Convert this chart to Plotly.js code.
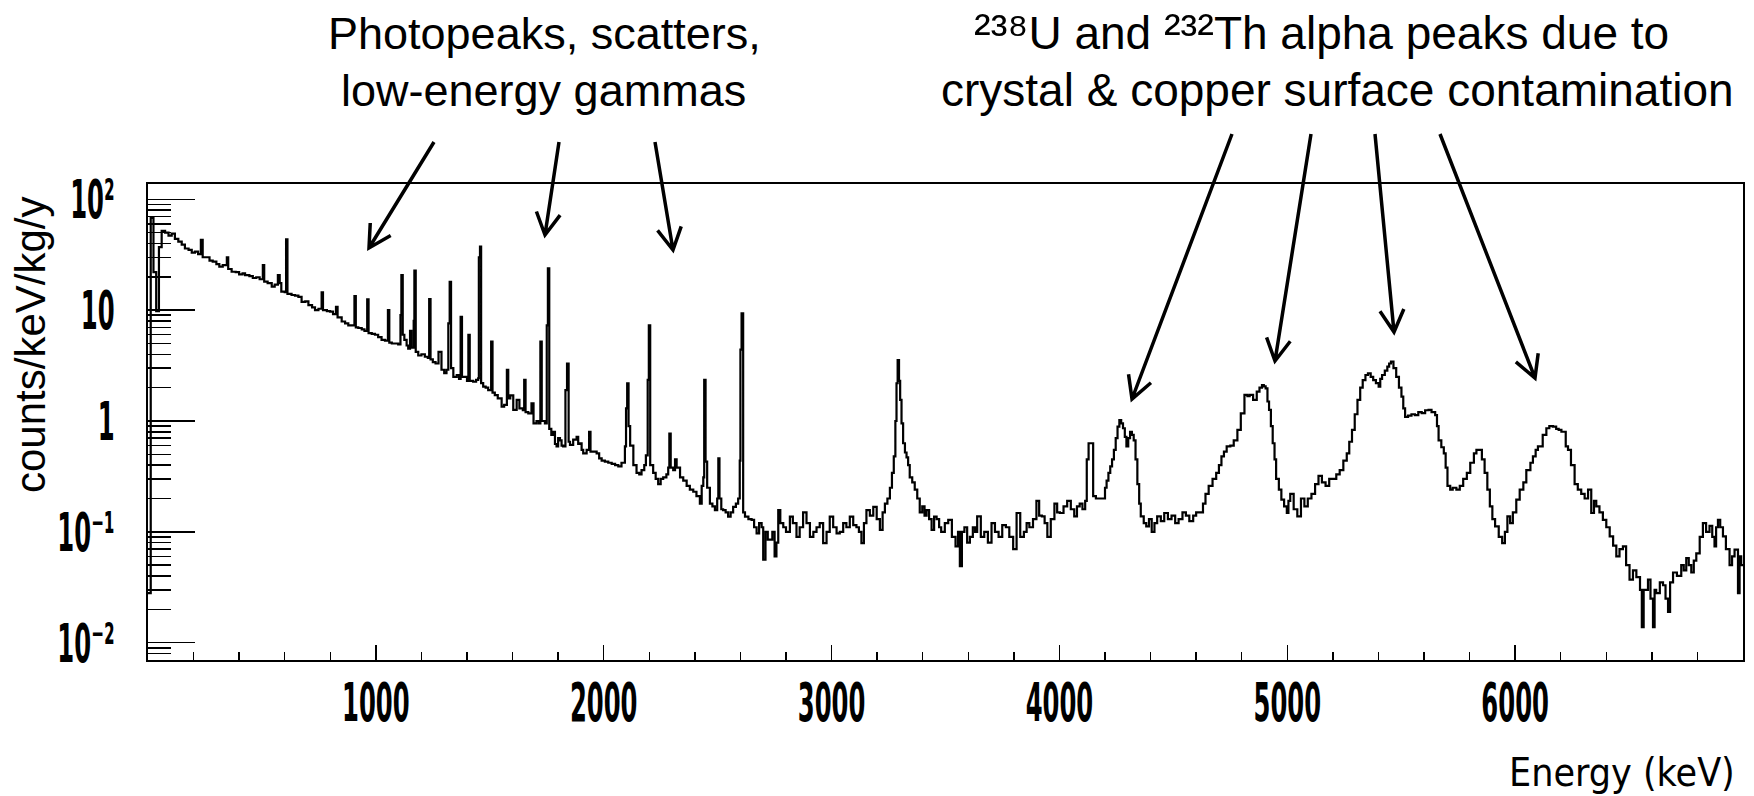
<!DOCTYPE html>
<html>
<head>
<meta charset="utf-8">
<script src="https://cdn.plot.ly/plotly-3.0.1.min.js"></script>
<style>
  html, body { margin: 0; padding: 0; background: #fff; }
  #spectrum { width: 1754px; height: 796px; }
</style>
</head>
<body>
<div id="spectrum"></div>
<script>
// Background spectrum: [energy (keV), counts/keV/kg/y] per histogram bin start.
// Gamma region: continuum with photopeaks up to the 2615 keV line.
const gammaRegion = [
  [0,0.028],[12,68],[24,22],[36,9.8],[48,37],[60,52],[75,50],[90,47],[104,49],[118,44],[133,41.5],[148,39],
  [162,36],[178,35],[192,33],[206,33.7],[220,32],[232,43],[240,30],[255,30],[270,28],[284,27.4],[300,26],
  [313,24.7],[328,25.5],[346,30],[352,23.5],[367,22.2],[385,22],[400,21],[415,21.5],[426,20.7],[445,20.3],
  [460,19.5],[475,19.8],[490,19],[504,25.5],[510,18.1],[525,17.5],[543,16.3],[556,17],[570,20.7],[578,17.5],
  [585,14.7],[600,14.5],[606,43.5],[612,14],[630,13.7],[645,13.5],[660,13.2],[674,11.9],[690,12],[704,11.1],
  [720,10.6],[733,10],[748,10.3],[762,14.5],[768,10],[785,9.8],[799,9.7],[812,9.2],[825,10.7],[832,8.6],
  [850,7.9],[865,7.6],[879,7.3],[895,7.3],[906,13.4],[912,7],[923,6.9],[938,6.7],[950,6.5],[962,12.5],
  [968,6.2],[982,6.1],[996,6.0],[1010,5.7],[1025,5.4],[1040,5.3],[1053,10],[1059,5.1],[1070,5.0],[1084,5.0],
  [1098,4.9],[1108,9],[1112,20.7],[1118,6],[1125,5.4],[1135,4.8],[1142,4.5],[1150,6.5],[1156,4.6],[1166,8],
  [1169,22.7],[1175,4.2],[1186,3.9],[1200,4.0],[1215,3.8],[1228,3.7],[1234,12.6],[1240,3.6],[1250,3.4],
  [1262,3.3],[1275,4.2],[1288,2.9],[1300,2.7],[1310,2.9],[1318,7.6],[1324,18],[1330,3],[1340,2.5],[1355,2.6],
  [1365,2.4],[1372,8.7],[1378,2.5],[1391,2.5],[1400,2.3],[1406,6.0],[1412,2.3],[1427,2.26],[1440,2.35],
  [1449,2.43],[1452,30],[1457,37.4],[1462,2.2],[1471,2.04],[1482,2.0],[1493,1.9],[1506,5.2],[1512,1.8],
  [1522,1.71],[1535,1.6],[1552,1.35],[1563,1.4],[1575,2.9],[1581,1.6],[1590,1.7],[1603,1.26],[1618,1.55],
  [1630,1.3],[1645,1.25],[1651,2.35],[1657,1.2],[1669,1.17],[1683,1.44],[1692,0.95],[1705,1.0],[1715,0.95],
  [1722,5.2],[1728,1.0],[1742,0.95],[1750,7.3],[1755,23.8],[1761,0.85],[1770,0.75],[1778,0.8],[1786,0.62],
  [1793,0.59],[1800,0.7],[1808,0.67],[1815,0.6],[1822,0.59],[1832,1.9],[1839,3.3],[1846,0.65],[1852,0.61],
  [1866,0.68],[1881,0.72],[1888,0.62],[1895,0.63],[1903,0.55],[1910,0.51],[1925,0.55],[1936,0.8],[1942,0.53],
  [1954,0.53],[1969,0.51],[1980,0.46],[1991,0.44],[2005,0.43],[2020,0.42],[2035,0.41],[2050,0.40],[2064,0.39],
  [2078,0.42],[2093,0.59],[2098,1.3],[2103,2.19],[2109,0.9],[2116,0.6],[2130,0.4],[2144,0.34],[2156,0.33],
  [2166,0.36],[2178,0.4],[2185,0.49],[2193,2.35],[2198,7.3],[2204,0.4],[2217,0.34],[2228,0.3],[2239,0.27],
  [2250,0.3],[2261,0.31],[2275,0.33],[2283,0.38],[2288,0.77],[2294,0.38],[2305,0.36],[2313,0.45],[2320,0.38],
  [2335,0.31],[2349,0.29],[2364,0.26],[2378,0.24],[2393,0.23],[2407,0.21],[2422,0.18],[2430,0.26],[2437,0.31],
  [2441,2.35],[2447,0.43],[2454,0.25],[2466,0.18],[2477,0.17],[2488,0.157],[2498,0.2],[2503,0.46],[2508,0.2],
  [2516,0.16],[2524,0.157],[2535,0.15],[2546,0.137],[2557,0.15],[2568,0.168],[2580,0.18],[2590,0.2],
  [2597,0.44],[2600,4.4],[2605,9.35],[2612,0.15]
];

// Flat region between the 2615 keV line and the alpha band, with the ~3.3 MeV peak.
const continuumRegion = [
  [2620,0.137],[2635,0.13],[2649,0.128],[2660,0.11],[2671,0.097],[2682,0.12],[2693,0.11],[2700,0.056],
  [2710,0.1],[2720,0.085],[2729,0.085],[2740,0.1],[2750,0.06],[2758,0.08],[2766,0.157],[2775,0.12],
  [2788,0.11],[2800,0.1],[2817,0.137],[2830,0.12],[2846,0.09],[2860,0.11],[2875,0.15],[2890,0.12],
  [2905,0.09],[2920,0.1],[2934,0.11],[2948,0.12],[2963,0.079],[2978,0.1],[2992,0.137],[3007,0.11],
  [3022,0.097],[3036,0.1],[3051,0.12],[3065,0.11],[3080,0.137],[3095,0.115],[3109,0.11],[3120,0.1],
  [3131,0.079],[3142,0.12],[3153,0.157],[3168,0.14],[3183,0.168],[3198,0.13],[3212,0.104],[3224,0.15],
  [3234,0.18],[3245,0.2],[3256,0.25],[3265,0.34],[3273,0.48],[3280,1.0],[3285,2.19],[3290,3.55],[3296,2.3],
  [3301,1.55],[3307,0.95],[3314,0.63],[3322,0.52],[3329,0.47],[3336,0.4],[3343,0.31],[3354,0.28],[3365,0.24],
  [3376,0.2],[3387,0.15],[3398,0.17],[3408,0.14],[3417,0.157],[3428,0.13],[3439,0.104],[3450,0.137],
  [3461,0.13],[3472,0.11],[3481,0.1],[3497,0.12],[3512,0.128],[3528,0.09],[3544,0.074],[3555,0.1],
  [3563,0.049],[3572,0.1],[3583,0.11],[3595,0.08],[3607,0.09],[3620,0.11],[3630,0.1],[3639,0.138],
  [3655,0.09],[3670,0.1],[3686,0.08],[3702,0.12],[3717,0.1],[3733,0.09],[3749,0.115],[3765,0.11],
  [3780,0.09],[3797,0.07],[3812,0.148],[3828,0.09],[3844,0.1],[3856,0.12],[3868,0.11],[3884,0.13],
  [3899,0.19],[3911,0.14],[3923,0.138],[3935,0.12],[3947,0.09],[3962,0.13],[3978,0.18],[3990,0.15],
  [4002,0.148],[4018,0.17],[4034,0.19],[4050,0.16],[4065,0.138],[4077,0.17],[4089,0.18],[4101,0.16],
  [4113,0.19]
];

// Alpha band: 238U / 232Th chain peaks from surface contamination.
const alphaRegion = [
  [4120,0.45],[4128,0.63],[4138,0.63],[4148,0.21],[4160,0.2],[4176,0.2],[4192,0.2],[4200,0.25],[4207,0.29],
  [4215,0.34],[4223,0.39],[4231,0.45],[4239,0.55],[4247,0.7],[4255,0.89],[4263,1.02],[4271,0.95],[4279,0.86],
  [4287,0.72],[4294,0.59],[4302,0.7],[4310,0.8],[4318,0.75],[4326,0.67],[4334,0.45],[4342,0.27],[4350,0.18],
  [4357,0.138],[4370,0.12],[4381,0.112],[4393,0.13],[4405,0.1],[4417,0.12],[4429,0.138],[4445,0.125],
  [4460,0.148],[4476,0.13],[4492,0.14],[4508,0.12],[4523,0.13],[4540,0.15],[4555,0.14],[4570,0.125],
  [4587,0.14],[4600,0.15],[4618,0.15],[4630,0.18],[4641,0.22],[4655,0.26],[4672,0.3],[4688,0.34],[4700,0.4],
  [4711,0.48],[4722,0.53],[4734,0.59],[4750,0.6],[4765,0.67],[4781,0.83],[4796,1.17],[4812,1.72],[4825,1.68],
  [4835,1.72],[4850,1.55],[4866,1.84],[4878,2.0],[4889,2.11],[4897,2.05],[4905,1.97],[4913,1.5],[4920,1.26],
  [4928,0.9],[4936,0.63],[4944,0.45],[4951,0.3],[4963,0.24],[4974,0.195],[4986,0.17],[4998,0.148],[5005,0.19],
  [5013,0.22],[5028,0.16],[5044,0.138],[5060,0.2],[5075,0.17],[5090,0.2],[5106,0.22],[5122,0.27],[5137,0.32],
  [5152,0.28],[5168,0.26],[5184,0.3],[5199,0.3],[5215,0.33],[5230,0.36],[5246,0.44],[5261,0.51],[5272,0.65],
  [5284,0.83],[5296,1.15],[5308,1.55],[5320,2.0],[5331,2.34],[5343,2.6],[5354,2.69],[5366,2.5],[5377,2.34],
  [5389,2.2],[5401,2.04],[5408,2.4],[5416,2.6],[5428,2.85],[5439,3.09],[5447,3.3],[5455,3.43],[5466,3.0],
  [5478,2.5],[5490,2.0],[5501,1.66],[5509,1.3],[5517,1.09],[5530,1.12],[5545,1.15],[5560,1.13],[5575,1.2],
  [5590,1.18],[5605,1.25],[5620,1.26],[5633,1.2],[5649,1.13],[5657,0.9],[5664,0.67],[5676,0.58],[5687,0.51],
  [5695,0.38],[5703,0.26],[5715,0.24],[5726,0.25],[5742,0.24],[5757,0.26],[5772,0.3],[5788,0.34],[5803,0.42],
  [5819,0.51],[5830,0.55],[5842,0.55],[5854,0.45],[5866,0.34],[5878,0.24],[5889,0.17],[5900,0.13],[5912,0.112],
  [5928,0.09],[5943,0.079],[5955,0.1],[5966,0.138],[5978,0.12],[5990,0.15],[6005,0.195],[6020,0.24],[6036,0.28],
  [6049,0.36],[6067,0.42],[6078,0.48],[6090,0.55],[6100,0.59],[6121,0.75],[6137,0.86],[6150,0.9],[6166,0.89],
  [6180,0.85],[6191,0.83],[6203,0.8],[6222,0.59],[6232,0.55],[6245,0.4],[6261,0.27],[6275,0.24],[6290,0.22],
  [6305,0.2],[6320,0.24],[6334,0.148],[6346,0.19],[6356,0.17],[6370,0.15],[6385,0.128],[6400,0.11],[6415,0.091],
  [6430,0.075],[6444,0.06],[6458,0.07],[6473,0.074],[6487,0.05],[6502,0.037],[6517,0.045],[6532,0.039],
  [6548,0.03],[6556,0.0138],[6564,0.03],[6583,0.037],[6594,0.025],[6605,0.0138],[6612,0.03],[6619,0.028],
  [6635,0.035],[6649,0.033],[6660,0.025],[6671,0.019],[6680,0.035],[6693,0.043],[6710,0.04],[6729,0.05],
  [6740,0.045],[6751,0.058],[6762,0.05],[6773,0.043],[6784,0.055],[6795,0.064],[6810,0.09],[6824,0.12],
  [6838,0.1],[6853,0.113],[6865,0.09],[6875,0.074],[6882,0.11],[6890,0.128],[6900,0.11],[6912,0.091],
  [6925,0.07],[6941,0.05],[6952,0.06],[6963,0.069],[6978,0.028],[6985,0.06],[6992,0.05],[7000,0.05]
];

// Axis ticks
const energyTicks = [1000, 2000, 3000, 4000, 5000, 6000];
const energyTickText = ['1000', '2000', '3000', '4000', '5000', '6000'];
const rateTicks = [0.01, 0.1, 1, 10, 100];
const rateTickText = ['10\u207B\u00B2', '10\u207B\u00B9', '1', '10', '10\u00B2'];

// ---------------------------------------------------------------------------
const allBins = gammaRegion.concat(continuumRegion, alphaRegion);
const energy = allBins.map(b => b[0]);
const counts = allBins.map(b => b[1]);

// Plot-area box in page pixels
const BOX = { left: 148, right: 1743, top: 184, bottom: 660 };
const W = 1754, H = 796;
const px = (X, Y) => [(X - BOX.left) / (BOX.right - BOX.left), (BOX.bottom - Y) / (BOX.bottom - BOX.top)];

// Straight arrow with an open "V" head, given in page pixels
function arrowShape(tail, tip) {
  const dx = tail[0] - tip[0], dy = tail[1] - tip[1];
  const len = Math.hypot(dx, dy), ux = dx / len, uy = dy / len;
  const head = 25, a = 0.5;
  const arm = s => [tip[0] + head * (ux * Math.cos(s * a) - uy * Math.sin(s * a)),
                    tip[1] + head * (ux * Math.sin(s * a) + uy * Math.cos(s * a))];
  const pts = [tail, tip, arm(1), arm(-1)].map(p => px(p[0], p[1]));
  const f = p => p[0].toFixed(5) + ',' + p[1].toFixed(5);
  return {
    type: 'path', xref: 'paper', yref: 'paper', layer: 'above',
    path: `M${f(pts[0])}L${f(pts[1])}M${f(pts[2])}L${f(pts[1])}L${f(pts[3])}`,
    line: { color: '#000', width: 3.5 }
  };
}

const arrows = [
  [[434, 142], [369, 248]],
  [[559, 142], [545, 235]],
  [[655, 142], [673, 250]],
  [[1232, 134], [1132, 399]],
  [[1311, 134], [1275, 361]],
  [[1375, 134], [1394, 332]],
  [[1440, 134], [1535, 378]]
].map(a => arrowShape(a[0], a[1]));

function label(text, X, Y, size, opts) {
  const p = px(X, Y);
  return Object.assign({
    text, x: p[0], y: p[1], xref: 'paper', yref: 'paper', showarrow: false,
    xanchor: 'center', yanchor: 'middle',
    font: { family: 'Liberation Sans, Arial, sans-serif', size, color: '#000' }
  }, opts || {});
}

// Mass numbers set as raised superscript digits
const massNumber = n => `<span style="font-size:50px">${n}</span>`;

const annotations = [
  label('Photopeaks, scatters,', 544, 33, 45),
  label('low-energy gammas', 543, 90, 45),
  label(`${massNumber('\u00B2\u00B3\u2078')}U and ${massNumber('\u00B2\u00B3\u00B2')}Th alpha peaks due to`, 1321, 2, 46,
    { yanchor: 'top' }),
  label('crystal &amp; copper surface contamination', 1337, 90, 46),
  label('Energy (keV)', 1737, 772, 39, { xanchor: 'right',
    font: { family: 'DejaVu Sans Condensed, sans-serif', size: 39, color: '#000' } }),
  label('counts/keV/kg/y', 30, 345, 42, { textangle: -90 })
];

const tickFont = { family: 'DejaVu Sans Condensed, sans-serif', size: 27, color: '#000', weight: 'bold' };

const trace = {
  type: 'scatter', mode: 'lines', x: energy, y: counts,
  line: { shape: 'hv', color: '#000', width: 2.2 },
  hoverinfo: 'skip', showlegend: false
};

const layout = {
  width: W, height: H,
  margin: { l: BOX.left, r: W - BOX.right, t: BOX.top, b: H - BOX.bottom, pad: 0 },
  paper_bgcolor: '#fff', plot_bgcolor: '#fff',
  showlegend: false,
  xaxis: {
    range: [0, 7000], tickmode: 'array', tickvals: energyTicks, ticktext: energyTickText,
    ticks: 'inside', ticklen: 15, tickwidth: 1.5, tickcolor: '#000',
    minor: { ticks: 'inside', ticklen: 8, tickwidth: 1.5, tickcolor: '#000', tickmode: 'linear', tick0: 0, dtick: 200, showgrid: false },
    showline: true, linecolor: '#000', linewidth: 2, mirror: true,
    showgrid: false, zeroline: false, tickfont: tickFont, ticklabelstandoff: 17
  },
  yaxis: {
    type: 'log', range: [-2.156, 2.138], tickmode: 'array', tickvals: rateTicks, ticktext: rateTickText,
    ticks: 'inside', ticklen: 47, tickwidth: 1.5, tickcolor: '#000',
    minor: { ticks: 'inside', ticklen: 23, tickwidth: 1.5, tickcolor: '#000', tickmode: 'linear', dtick: 'D1', showgrid: false },
    showline: true, linecolor: '#000', linewidth: 2, mirror: true,
    showgrid: false, zeroline: false, tickfont: tickFont, ticklabelstandoff: 26
  },
  shapes: arrows,
  annotations
};

// Bold tick numerals are drawn tall and narrow
function stretchTickLabels(gd, k) {
  gd.querySelectorAll('.xtick text, .ytick text').forEach(t => {
    let base = t.getAttribute('data-base-transform');
    if (base === null) { base = t.getAttribute('transform') || ''; t.setAttribute('data-base-transform', base); }
    t.setAttribute('transform', base);
    const bb = t.getBBox();
    const cy = bb.y + bb.height / 2;
    t.setAttribute('transform', `${base} translate(0,${cy}) scale(1,${k}) translate(0,${-cy})`);
  });
}

const gd = document.getElementById('spectrum');
Plotly.newPlot(gd, [trace], layout, { staticPlot: true, displayModeBar: false })
  .then(() => stretchTickLabels(gd, 2.0));
</script>
</body>
</html>
